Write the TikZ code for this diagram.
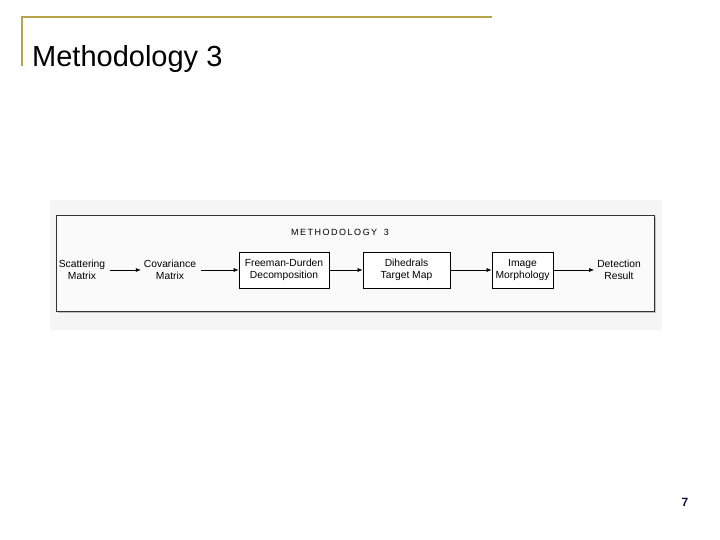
\documentclass[tikz,border=0pt]{standalone}
\usepackage{fontspec}
\setmainfont{Liberation Sans}
\usetikzlibrary{arrows.meta}
\definecolor{gold}{RGB}{184,164,72}
\definecolor{navy}{RGB}{20,10,60}
\tikzset{
  proc/.style={draw=black, line width=0.7pt, fill=white, minimum width=#1, minimum height=36pt, inner sep=1pt, align=center, font=\fontsize{10.3}{12.5}\selectfont},
  lbl/.style={align=center, inner sep=1pt, font=\fontsize{10.3}{12.5}\selectfont},
  arr/.style={-{Latex[length=5pt,width=4pt]}, line width=0.6pt}
}
\begin{document}
\begin{tikzpicture}[x=1pt,y=-1pt]
\useasboundingbox (0,0) rectangle (720,540);
% gold header lines
\coordinate (g1) at (22,17);
\coordinate (g2) at (492,17);
\coordinate (g3) at (22,66);
\draw[gold, line width=1.6pt] (g3) -- (g1) -- (g2);
\node[anchor=base west, inner sep=0, font=\fontsize{29}{32}\selectfont] (title) at (32,67) {Methodology 3};
% figure background
\fill[black!4] (50,200) rectangle (662,330);
\fill[black!25] (58,217) rectangle (656,313);
\draw[black!80, line width=0.7pt, fill=black!2] (56,215) rectangle (654,311);
\node[font=\fontsize{9}{11}\selectfont, inner sep=0] (mt) at (340,232) {M\,E\,T\,H\,O\,D\,O\,L\,O\,G\,Y\,\ \ 3};
% nodes
\node[lbl] (sm) at (82,270) {Scattering\\Matrix};
\node[lbl] (cm) at (170,270) {Covariance\\Matrix};
\node[proc=90pt] (fd) at (284,270) {Freeman-Durden\\Decomposition};
\node[proc=87pt] (dt) at (406.5,270) {Dihedrals\\Target Map};
\node[proc=61pt] (im) at (522.5,270) {Image\\Morphology};
\node[lbl] (dr) at (619,270) {Detection\\Result};
\draw[arr, shorten <=4pt, shorten >=2pt] (sm.east) -- (cm.west);
\draw[arr, shorten <=4pt] (cm.east) -- (fd.west);
\draw[arr] (fd.east) -- (dt.west);
\draw[arr] (dt.east) -- (im.west);
\draw[arr, shorten >=2pt] (im.east) -- (dr.west);
% page number
\node[font=\bfseries\fontsize{12}{14}\selectfont, text=navy] (pn) at (685,502) {7};
\end{tikzpicture}
\end{document}
